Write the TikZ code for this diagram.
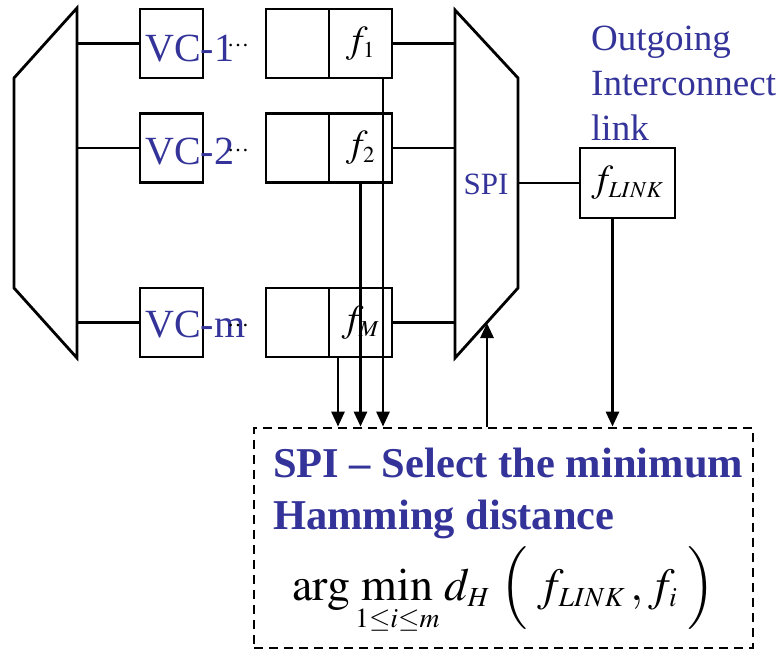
\documentclass[tikz,border=0pt]{standalone}
\usepackage{mathptmx}
\usepackage{fontspec}
\setmainfont{Liberation Serif}
\def\defaultscriptratio{.6}
\usetikzlibrary{arrows.meta,positioning}
\definecolor{spiblue}{RGB}{51,51,153}
\tikzset{
  wire/.style={line width=2.8pt},
  box/.style={draw, wire, minimum width=63pt, minimum height=69pt, inner sep=0pt},
  arr/.style={wire, -{Triangle[length=15pt,width=13pt]}},
  vclabel/.style={text=spiblue, font=\fontsize{40}{40}\selectfont, inner sep=0pt, anchor=base west},
  vcdots/.style={font=\fontsize{22}{22}\selectfont, inner sep=0pt},
  flabel/.style={font=\fontsize{38}{38}\selectfont},
}
\begin{document}
\begin{tikzpicture}[x=1pt,y=-1pt]
\useasboundingbox (0,0) rectangle (782,655);
% Input demux
\draw[wire, line join=miter] (77,8) -- (14,78) -- (14,288) -- (77,358) -- cycle;
\coordinate (in1) at (77,43.5);
\coordinate (in2) at (77,148);
\coordinate (inm) at (77,322.5);
% Virtual channels
\node[box] (vc1) at (171.5,43.5) {};
\node[box] (vc2) at (171.5,148) {};
\node[box] (vcm) at (171.5,322.5) {};
\draw[wire] (in1) -- (vc1.west);
\draw[wire] (in2) -- (vc2.west);
\draw[wire] (inm) -- (vcm.west);
\node[vclabel] (vc1txt) at (145,62) {VC-1};
\node[vclabel] (vc2txt) at (145,165) {VC-2};
\node[vclabel] (vcmtxt) at (145,337) {VC-m};
\node[vcdots] (vc1dots) at (238,46) {\dots};
\node[vcdots] (vc2dots) at (238,151) {\dots};
\node[vcdots] (vcmdots) at (238,326) {\dots};
% Buffers
\node[box] (buf1) at (297.5,43.5) {};
\node[box, flabel] (f1) at (360.5,43.5) {$f_1$};
\node[box] (buf2) at (297.5,148) {};
\node[box, flabel] (f2) at (360.5,148) {$f_2$};
\node[box] (bufm) at (297.5,322.5) {};
\node[box, flabel] (fm) at (360.5,322.5) {$f_M$};
% SPI mux
\draw[wire, line join=miter] (455,10) -- (518,78) -- (518,288) -- (455,358) -- cycle;
\coordinate (mux1) at (455,43.5);
\coordinate (mux2) at (455,148);
\coordinate (muxm) at (455,322.5);
\coordinate (muxout) at (518,183);
\coordinate (muxin) at (487,323);
\draw[wire] (f1.east) -- (mux1);
\draw[wire] (f2.east) -- (mux2);
\draw[wire] (fm.east) -- (muxm);
\node[text=spiblue, font=\fontsize{31}{31}\selectfont, inner sep=0pt] (spilab) at (486,184) {SPI};
% Outgoing link
\node[box, flabel, minimum width=95pt, minimum height=70pt] (flink) at (627.5,183) {$f_{LINK}$};
\draw[wire] (muxout) -- (flink.west);
\node[text=spiblue, font=\fontsize{37}{45}\selectfont, align=left, anchor=north west, inner sep=0pt] (outlab) at (591,26) {Outgoing\\Interconnect\\link};
% SPI selection box
\node[draw, wire, dash pattern=on 9pt off 6pt, minimum width=499pt, minimum height=220pt] (spibox) at (503.5,538) {};
\node[text=spiblue, font=\bfseries\fontsize{42.5}{42.5}\selectfont, anchor=base west, inner sep=0pt] (title1) at (273,477) {SPI – Select the minimum};
\node[text=spiblue, font=\bfseries\fontsize{42.5}{42.5}\selectfont, anchor=base west, inner sep=0pt] (title2) at (273,529) {Hamming distance};
\node[anchor=base west, inner sep=0pt, font=\fontsize{46}{46}\selectfont] (formula) at (292,600)
  {$\displaystyle\arg\min_{1\le i\le m} d_H\;\Bigl(\;f_{LINK}\,,f_i\;\Bigr)$};
% Arrows
\draw[arr] ([xshift=22.5pt]f1.south) -- ([xshift=22.5pt]f1.south |- spibox.north);
\draw[arr] (f2.south) -- (f2.south |- spibox.north);
\draw[arr] ([xshift=-22.5pt]fm.south) -- ([xshift=-22.5pt]fm.south |- spibox.north);
\draw[arr] (muxin |- spibox.north) -- (muxin);
\draw[arr] ([xshift=-15pt]flink.south) -- ([xshift=-15pt]flink.south |- spibox.north);
\end{tikzpicture}
\end{document}
